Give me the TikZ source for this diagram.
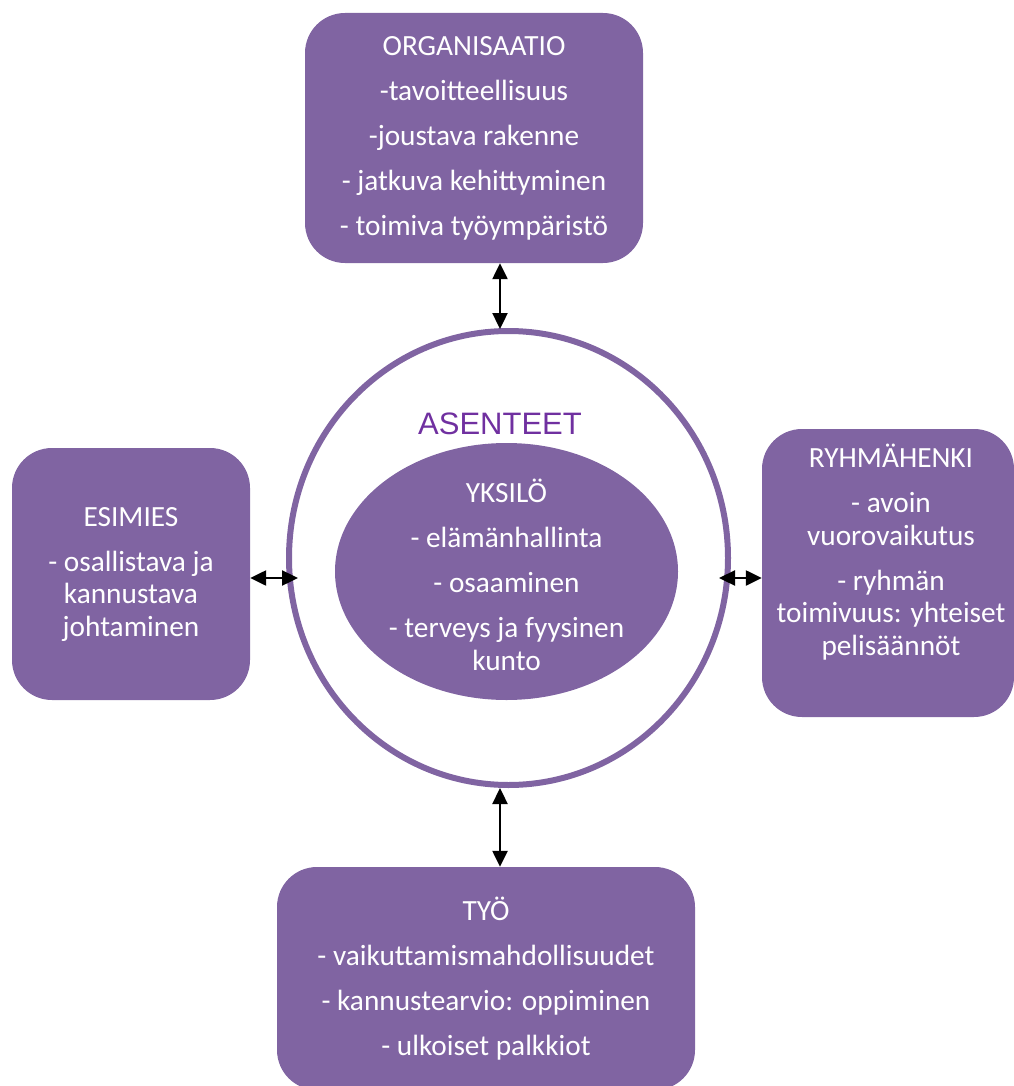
\documentclass[tikz,border=0pt]{standalone}
\usepackage{fontspec}
\setmainfont{Carlito}
\newfontfamily\arialf{Liberation Sans}
\usetikzlibrary{arrows.meta,shapes.geometric}
\definecolor{boxpurple}{HTML}{8064A2}
\definecolor{titlepurple}{HTML}{7030A0}
\tikzset{
  box/.style={draw=none, fill=boxpurple, rounded corners=40pt, inner sep=0pt,
    text=white, align=center, font=\fontsize{29.3}{32.5}\selectfont},
  txt/.style={text=white, align=center, inner sep=0pt, font=\fontsize{29.3}{32.5}\selectfont},
  arr/.style={{Triangle[length=16pt,width=15pt]}-{Triangle[length=16pt,width=15pt]}, line width=2.4pt, black}
}
\begin{document}
\begin{tikzpicture}[x=1pt,y=-1pt]
\useasboundingbox (0,0) rectangle (1013,1086);
% outer circle
\node[ellipse, draw=boxpurple, line width=6pt, minimum width=439pt, minimum height=454pt, inner sep=0pt] (circ) at (508.5,558) {};
% inner ellipse
\node[ellipse, fill=boxpurple, minimum width=343pt, minimum height=257pt, inner sep=0pt] (ell) at (506.5,571.5) {};
\node[txt] (yksilo) at (506.5,575) {YKSILÖ\\[12.5pt]- elämänhallinta\\[12.5pt]- osaaminen\\[12.5pt]- terveys ja fyysinen\\kunto};
% title
\node[text=titlepurple, inner sep=0pt, font=\arialf\fontsize{31}{36}\selectfont] (asenteet) at (500,424) {ASENTEET};
% boxes
\node[box, minimum width=338pt, minimum height=250pt] (org) at (474,138)
  {ORGANISAATIO\\[12.5pt]-tavoitteellisuus\\[12.5pt]-joustava rakenne\\[12.5pt]- jatkuva kehittyminen\\[12.5pt]- toimiva työympäristö};
\node[box, minimum width=238pt, minimum height=252pt] (esimies) at (131,574)
  {ESIMIES\\[12.5pt]- osallistava ja\\kannustava\\johtaminen};
\node[box, minimum width=252pt, minimum height=288pt] (ryhma) at (888,573) {};
\node[txt] (ryhmatxt) at (891,552)
  {RYHMÄHENKI\\[12.5pt]- avoin\\vuorovaikutus\\[12.5pt]- ryhmän\\toimivuus: yhteiset\\pelisäännöt};
\node[box, minimum width=418pt, minimum height=223pt] (tyo) at (486,978.5)
  {TYÖ\\[12.5pt]- vaikuttamismahdollisuudet\\[12.5pt]- kannustearvio: oppiminen\\[12.5pt]- ulkoiset palkkiot};
% arrow endpoints on circle
\coordinate (ct) at (500,329);
\coordinate (cb) at (500,788);
\coordinate (cl) at (298,578);
\coordinate (cr) at (719,578);
% arrows
\draw[arr] (org.south -| ct) -- (ct);
\draw[arr] (cb) -- (tyo.north -| cb);
\draw[arr] (esimies.east |- cl) -- (cl);
\draw[arr] (cr) -- (ryhma.west |- cr);
\end{tikzpicture}
\end{document}
